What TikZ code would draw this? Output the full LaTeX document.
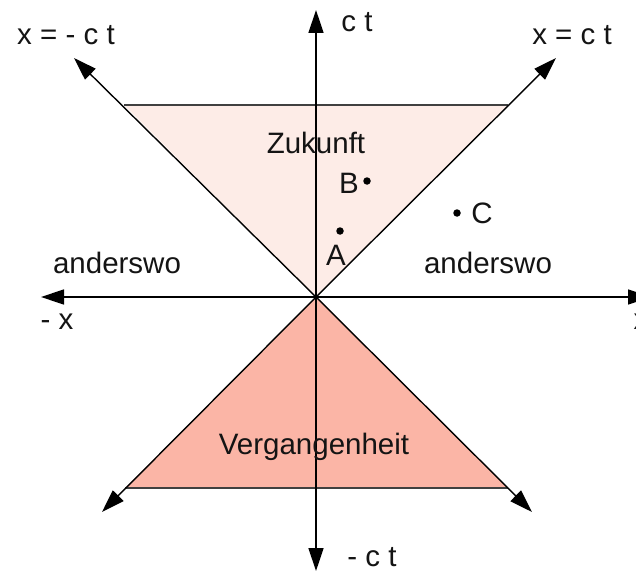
\documentclass[tikz,border=0pt]{standalone}
\usepackage{fontspec}
\setmainfont{Liberation Sans}
\usetikzlibrary{arrows.meta}
\definecolor{futurefill}{HTML}{FDECE7}
\definecolor{pastfill}{HTML}{FBB5A6}
\begin{document}
\begin{tikzpicture}[x=1pt,y=-1pt,
  axis/.style={line width=1.4pt,-{Triangle[length=23pt,width=15pt]}},
  lbl/.style={font=\fontsize{29.5}{32}\selectfont,inner sep=0pt,text=black!92},
  pt/.style={circle,fill=black,inner sep=0pt,minimum size=7.5pt}]
\useasboundingbox (0,0) rectangle (636,572);
% coordinates
\coordinate (O) at (316,297);
\coordinate (TL) at (124,105);
\coordinate (TR) at (508,105);
\coordinate (BL) at (125,488);
\coordinate (BR) at (508,488);
\coordinate (ctTip) at (316,10);
\coordinate (mctTip) at (316,571);
\coordinate (xTip) at (651,297);
\coordinate (mxTip) at (41,297);
\coordinate (ulTip) at (74,58);
\coordinate (urTip) at (556,58);
\coordinate (llTip) at (102,512);
\coordinate (lrTip) at (532,512);
% cones
\fill[futurefill] (O) -- (TL) -- (TR) -- cycle;
\fill[pastfill] (O) -- (BL) -- (BR) -- cycle;
\draw[line width=1.4pt,black!75] (TL) -- (TR);
\draw[line width=1.4pt,black!75] (BL) -- (BR);
% axes
\draw[axis] (O) -- (ctTip);
\draw[axis] (O) -- (mctTip);
\draw[axis] (O) -- (xTip);
\draw[axis] (O) -- (mxTip);
\draw[axis] (O) -- (ulTip);
\draw[axis] (O) -- (urTip);
\draw[axis] (O) -- (llTip);
\draw[axis] (O) -- (lrTip);
% labels
\node[lbl] (ct) at (357,22) {c t};
\node[lbl] (mct) at (372,557) {- c t};
\node[lbl] (xl) at (641,322) {x};
\node[lbl] (mx) at (57,322) {- x};
\node[lbl] (xmct) at (66,35) {x = - c t};
\node[lbl] (xct) at (572,35) {x = c t};
\node[lbl] (zuk) at (316,143) {Zukunft};
\node[lbl] (verg) at (314,447) {Vergangenheit};
\node[lbl] (andl) at (117,263) {anderswo};
\node[lbl] (andr) at (488,263) {anderswo};
\node[pt] (dB) at (367,181) {};
\node[lbl] (B) at (349,183) {B};
\node[pt] (dA) at (340,231) {};
\node[lbl] (A) at (336,255) {A};
\node[pt] (dC) at (457,213) {};
\node[lbl] (C) at (482,213) {C};
\end{tikzpicture}
\end{document}
